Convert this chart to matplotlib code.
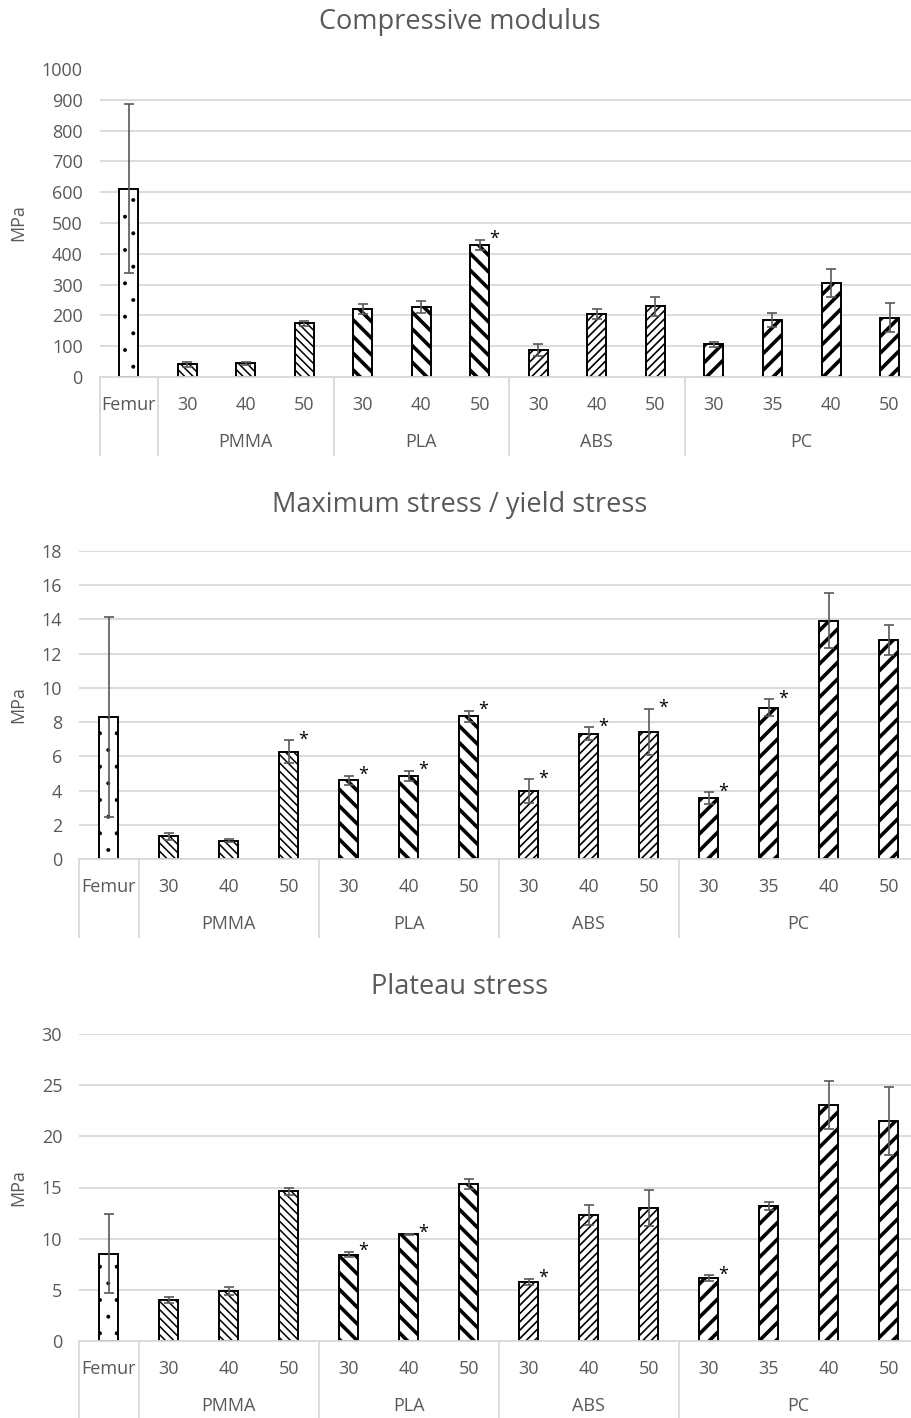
import numpy as np
import matplotlib
matplotlib.use('Agg')
import matplotlib.pyplot as plt
import matplotlib.transforms as mtransforms

plt.rcParams['font.family'] = ['Open Sans', 'DejaVu Sans']

# categories
categories = ['Femur', '30', '40', '50', '30', '40', '50', '30', '40', '50', '30', '35', '40', '50']
groups = ['PMMA', 'PLA', 'ABS', 'PC']
group_members = [[1, 2, 3], [4, 5, 6], [7, 8, 9], [10, 11, 12, 13]]
material = ['Femur', 'PMMA', 'PMMA', 'PMMA', 'PLA', 'PLA', 'PLA',
            'ABS', 'ABS', 'ABS', 'PC', 'PC', 'PC', 'PC']

# compressive modulus (MPa)
modulus = [612, 41, 44, 174, 222, 228, 428, 88, 205, 230, 106, 185, 306, 193]
modulus_err = [273, 8, 4, 9, 16, 20, 17, 19, 17, 31, 9, 24, 46, 46]
modulus_sig = [6]

# maximum stress / yield stress (MPa)
maxstress = [8.3, 1.33, 1.08, 6.28, 4.59, 4.86, 8.33, 3.96, 7.32, 7.42, 3.54, 8.84, 13.93, 12.82]
maxstress_err = [5.83, 0.2, 0.08, 0.65, 0.27, 0.3, 0.33, 0.7, 0.37, 1.34, 0.35, 0.49, 1.62, 0.87]
maxstress_sig = [3, 4, 5, 6, 7, 8, 9, 10, 11]

# plateau stress (MPa)
plateau = [8.55, 4.01, 4.92, 14.62, 8.45, 10.44, 15.34, 5.76, 12.32, 13.0, 6.15, 13.16, 23.03, 21.47]
plateau_err = [3.9, 0.29, 0.39, 0.33, 0.23, 0.05, 0.48, 0.3, 1.0, 1.72, 0.26, 0.39, 2.34, 3.34]
plateau_sig = [4, 5, 7, 10]

hatches = {'Femur': '.', 'PMMA': '\\\\\\\\', 'PLA': '\\\\', 'ABS': '////', 'PC': '//'}
hatch_lw = {'Femur': 0.4, 'PMMA': 1.1, 'PLA': 2.6, 'ABS': 1.2, 'PC': 2.6}

txt = '#595959'
grid = '#d9d9d9'

W, H = 911, 1418
fig = plt.figure(figsize=(W / 100, H / 100), dpi=100)

panels = [
    ('Compressive modulus', modulus, modulus_err, modulus_sig, (0, 1000, 100), 99.5, 69, 377, 455, 22),
    ('Maximum stress / yield stress', maxstress, maxstress_err, maxstress_sig, (0, 18, 2), 78.8, 551, 859, 937, 505),
    ('Plateau stress', plateau, plateau_err, plateau_sig, (0, 30, 5), 78.8, 1034, 1341, 1418, 987),
]

x = np.arange(len(categories))

for title, vals, errs, sig, (y0, y1, ys), left, top, bottom, sep_end, title_y in panels:
    right = 918.8
    ax = fig.add_axes([left / W, 1 - bottom / H, (right - left) / W, (bottom - top) / H])
    ax.set_xlim(-0.5, len(categories) - 0.5)
    ax.set_ylim(y0, y1)
    ax.set_yticks(np.arange(y0, y1 + ys / 2, ys))
    ax.yaxis.grid(True, color=grid, lw=1.3)
    ax.set_axisbelow(True)
    if title == 'Compressive modulus':
        ax.get_ygridlines()[-1].set_visible(False)
    for s in ['left', 'right', 'top']:
        ax.spines[s].set_visible(False)
    ax.spines['bottom'].set_color(grid)
    ax.spines['bottom'].set_linewidth(1.3)
    ax.tick_params(axis='y', length=0, pad=12, labelsize=13, labelcolor=txt)
    ax.tick_params(axis='x', length=0, pad=14, labelsize=13, labelcolor=txt)
    ax.set_xticks(x)
    ax.set_xticklabels(categories)

    width = 19 / ((right - left) / 14)
    for i in range(len(categories)):
        m = material[i]
        bar = ax.bar(x[i], vals[i], width=width, color='white', edgecolor='black',
                     linewidth=1.4, hatch=hatches[m], zorder=2)[0]
        if hasattr(bar, 'set_hatch_linewidth'):
            bar.set_hatch_linewidth(hatch_lw[m])
    ax.errorbar(x, vals, yerr=errs, fmt='none', ecolor='#595959', elinewidth=1.2,
                capsize=3.5, capthick=1.2, zorder=3)

    for i in sig:
        ax.annotate('*', (x[i], vals[i] + errs[i]), xytext=(10, -3), textcoords='offset points',
                    ha='center', va='baseline', fontsize=13, color='black')

    # category separators below the axis
    trans = mtransforms.blended_transform_factory(ax.transData, ax.transAxes)
    depth = (sep_end - bottom) / (bottom - top)
    for xs in [-0.5, 0.5, 3.5, 6.5, 9.5]:
        ax.plot([xs, xs], [0, -depth], transform=trans, color=grid, lw=1.3, clip_on=False)
    glab_y = -65 / (bottom - top)
    for g, members in zip(groups, group_members):
        ax.text(np.mean(members), glab_y, g, transform=trans, ha='center', va='center',
                fontsize=13, color=txt)

    fig.text(460 / W, 1 - title_y / H, title, ha='center', va='center', fontsize=19.5, color=txt)
    fig.text(18 / W, 1 - (top + bottom) / 2 / H, 'MPa', rotation=90, ha='center', va='center',
             fontsize=13, color=txt)

fig.savefig('out.png', dpi=100)
